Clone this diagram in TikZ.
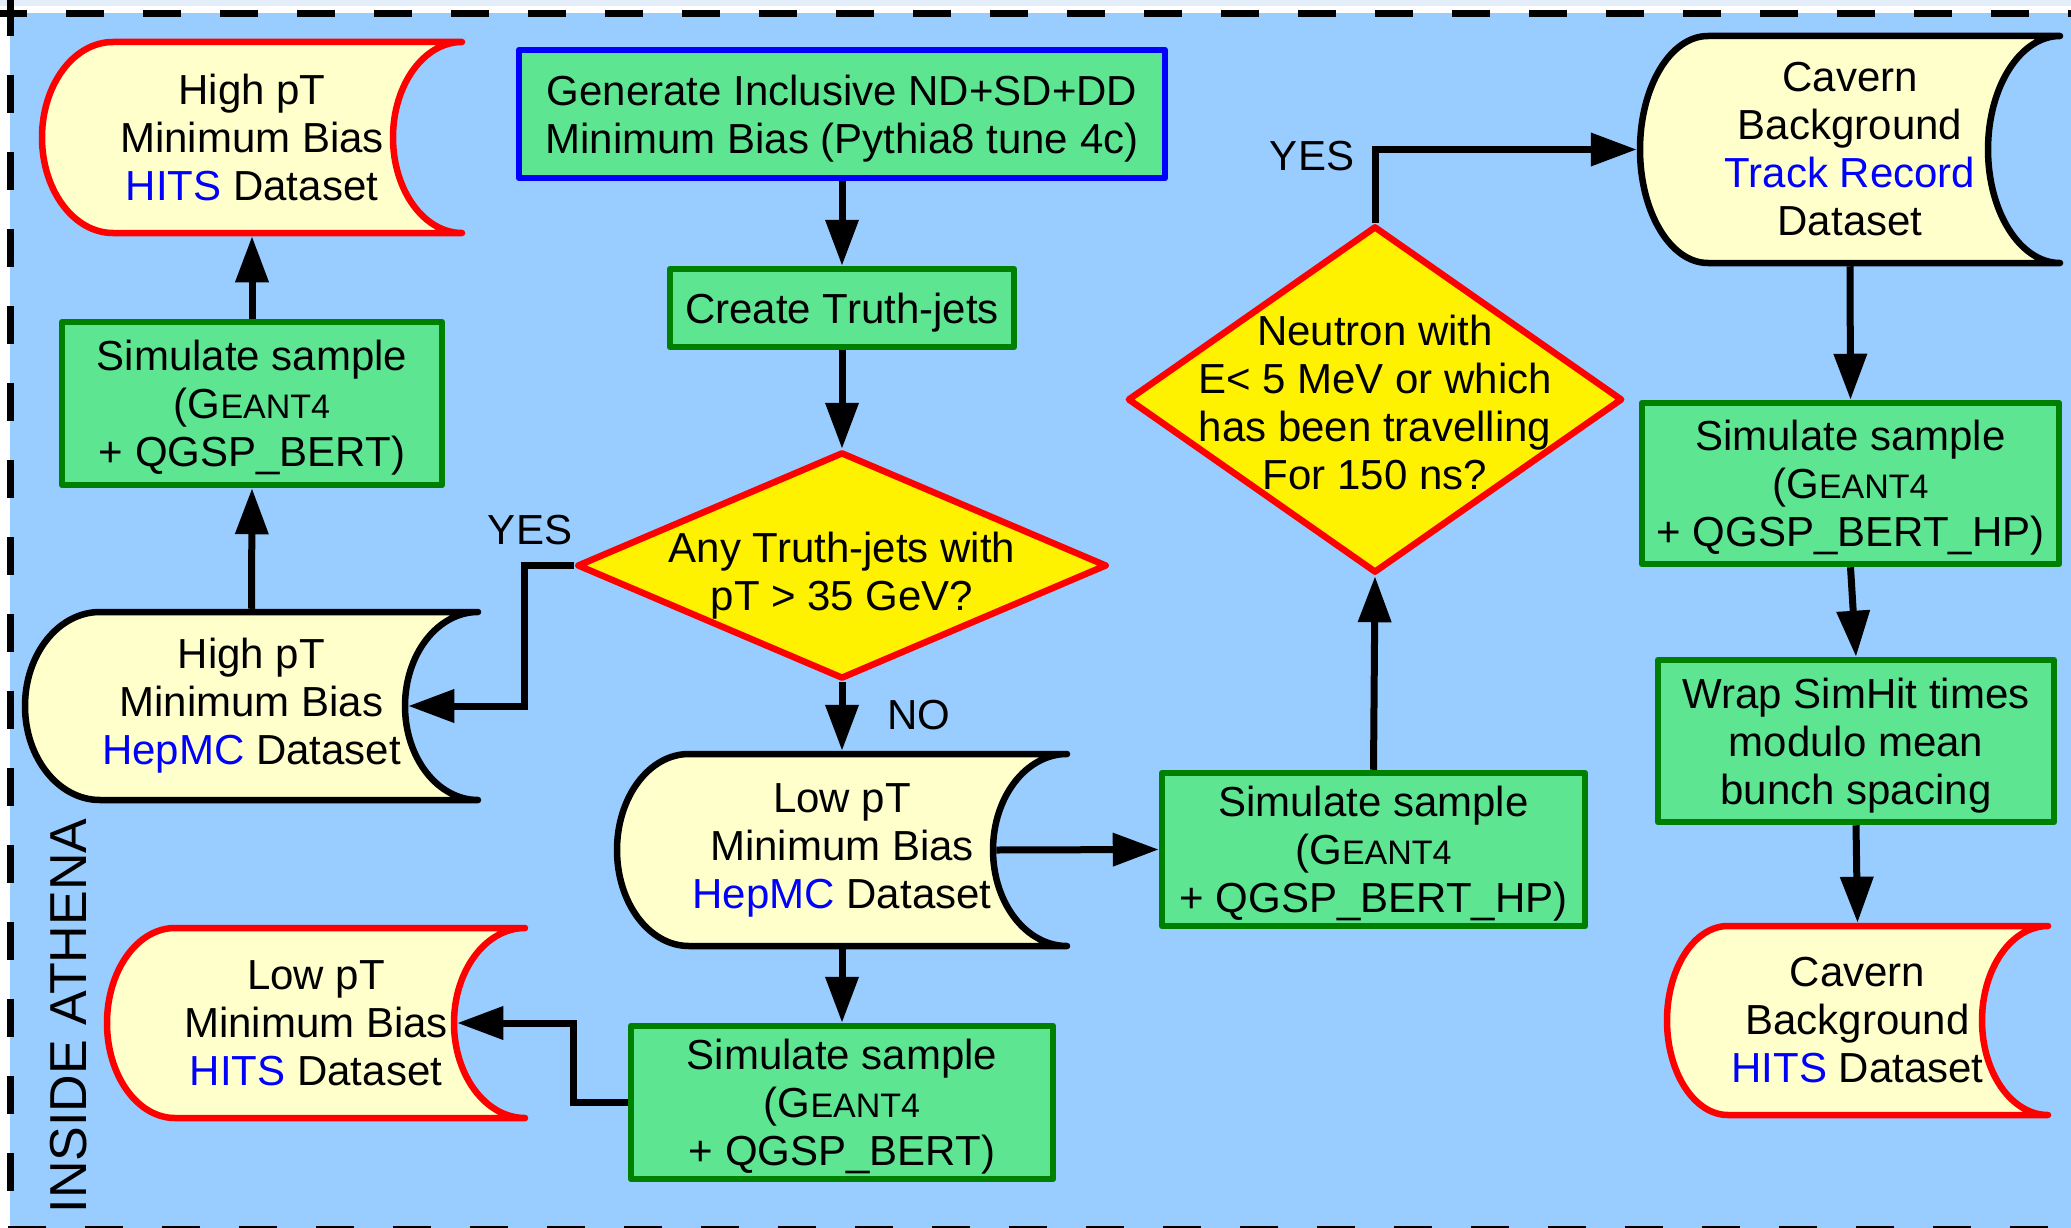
\documentclass[tikz,border=0pt]{standalone}
\usepackage{fontspec}
\setmainfont{Liberation Sans}
\usetikzlibrary{arrows.meta,shapes.geometric}
\definecolor{skyback}{HTML}{99CCFF}
\definecolor{topband}{HTML}{E4EEFB}
\definecolor{creamfill}{HTML}{FFFFCC}
\definecolor{procfill}{HTML}{5EE592}
\definecolor{procline}{HTML}{008000}
\newcommand{\geant}{G{\fontsize{34}{48}\selectfont EANT4}}
\newcommand{\simtext}[1]{\rule{0pt}{39pt}Simulate sample\\(\geant\\+ QGSP\_BERT#1)}

\begin{document}
\begin{tikzpicture}[x={(1pt,0pt)}, y={(0pt,-1pt)},
    txt/.style={font=\fontsize{42}{48}\selectfont, align=center},
    proc/.style={txt, rectangle, draw=procline, fill=procfill, line width=6.5pt, line join=round, inner sep=0pt},
    decision/.style={txt, diamond, draw=red, fill=yellow, line width=6.5pt, line join=round, inner sep=-40pt},
    dataline/.style={line width=6.5pt, line cap=round, line join=round, fill=creamfill},
    datatext/.style={txt, inner sep=0pt, outer sep=3.25pt},
    arr/.style={line width=7pt, -{Triangle[length=46pt,width=32pt]}},
    lbl/.style={font=\fontsize{42}{48}\selectfont, inner sep=0pt},
    border/.style={line width=7.3pt, dash pattern=on 38pt off 39pt}]
    \useasboundingbox (0,0) rectangle (2071,1228);
    \fill[white] (0,0) rectangle (2071,1228);
    \fill[topband] (0,0) rectangle (2071,6);
    \fill[skyback] (10,13) rectangle (2071,1228);
    \draw[border] (-11,13.7) -- (2100,13.7);
    \draw[border] (10.3,-2) -- (10.3,1240);
    \draw[border] (8,1230) -- (2100,1230);

    \foreach \nm/\cx/\cy/\dw/\dh/\lb/\rc/\col/\txt in {
        hiHITS/252/137.5/420/191/71/69/red/{High pT\\Minimum Bias\\\textcolor{blue}{HITS} Dataset},
        hiMC/251.5/706/453/188/75/73/black/{High pT\\Minimum Bias\\\textcolor{blue}{HepMC} Dataset},
        loMC/842/850/450/192/72/74/black/{Low pT\\Minimum Bias\\\textcolor{blue}{HepMC} Dataset},
        loHITS/316/1023/418/190/68/71/red/{Low pT\\Minimum Bias\\\textcolor{blue}{HITS} Dataset},
        cavTR/1850/149.5/420/227/68/72/black/{Cavern\\Background\\\textcolor{blue}{Track Record}\\Dataset},
        cavHITS/1857.5/1020.5/381/189/61/66/red/{Cavern\\Background\\\textcolor{blue}{HITS} Dataset}}{
      \draw[dataline, draw=\col] (\cx-\dw/2+\lb, \cy-\dh/2) -- (\cx+\dw/2, \cy-\dh/2)
        arc[start angle=270, end angle=90, x radius=\rc, y radius=\dh/2]
        -- (\cx-\dw/2+\lb, \cy+\dh/2)
        arc[start angle=90, end angle=270, x radius=\lb, y radius=\dh/2] -- cycle;
      \node[datatext, minimum width=\dw, minimum height=\dh] (\nm) at (\cx,\cy) {\txt};
      \coordinate (\nm-in) at (\cx+\dw/2-\rc+3.25, \cy);
    }

    \node[proc, draw=blue, minimum width=646, minimum height=128] (gen) at (842,114) {\rule{0pt}{39pt}Generate Inclusive ND+SD+DD\\Minimum Bias (Pythia8 tune 4c)};
    \node[proc, minimum width=344, minimum height=78] (truth) at (842,308) {\rule{0pt}{39pt}Create Truth-jets};
    \node[decision, aspect=2.33, minimum width=530, minimum height=227] (dia1) at (842,565.5) {\rule{0pt}{51pt}Any Truth-jets with\\pT > 35 GeV?};
    \node[proc, minimum width=422, minimum height=153] (simLo) at (842,1102.5) {\simtext{}};
    \node[proc, minimum width=380, minimum height=163] (simHi) at (252,403.5) {\simtext{}};
    \node[proc, minimum width=423, minimum height=153] (simMid) at (1373.5,849.5) {\simtext{\_HP}};
    \node[decision, aspect=1.43, minimum width=495, minimum height=347] (dia2) at (1375,399.5) {\rule{0pt}{37pt}Neutron with\\E< 5 MeV or which\\has been travelling\\For 150 ns?};
    \node[proc, minimum width=417, minimum height=161] (simR) at (1850.5,483.5) {\simtext{\_HP}};
    \node[proc, minimum width=396, minimum height=162] (wrap) at (1856,741) {\rule{0pt}{39pt}Wrap SimHit times\\modulo mean\\bunch spacing};

    \node[lbl] (yesL) at (530,530) {YES};
    \node[lbl] (no) at (919,715) {NO};
    \node[lbl] (yesR) at (1312,156) {YES};
    \node[font=\fontsize{52}{60}\selectfont, rotate=90, inner sep=0pt] (athena) at (69,1016) {INSIDE ATHENA};

    \draw[arr] (gen.south) -- (truth.north);
    \draw[arr] (truth.south) -- (dia1.north);
    \draw[arr] (dia1.south) -- (loMC.north);
    \draw[arr] (loMC.south) -- (simLo.north);
    \draw[arr] (dia1.west) -- ++(-49,0) |- (hiMC-in);
    \draw[arr] (simLo.west) -- ++(-54,0) |- (loHITS-in);
    \draw[arr] (hiMC.north) -- (simHi.south);
    \draw[arr] (simHi.north) -- (hiHITS.south);
    \draw[arr] (loMC-in) -- (simMid.west);
    \draw[arr] (simMid.north) -- (dia2.south);
    \draw[arr] (dia2.north) |- (cavTR.west);
    \draw[arr] (cavTR.south) -- (simR.north);
    \draw[arr] (simR.south) -- (wrap.north);
    \draw[arr] (wrap.south) -- (cavHITS.north);
\end{tikzpicture}
\end{document}
